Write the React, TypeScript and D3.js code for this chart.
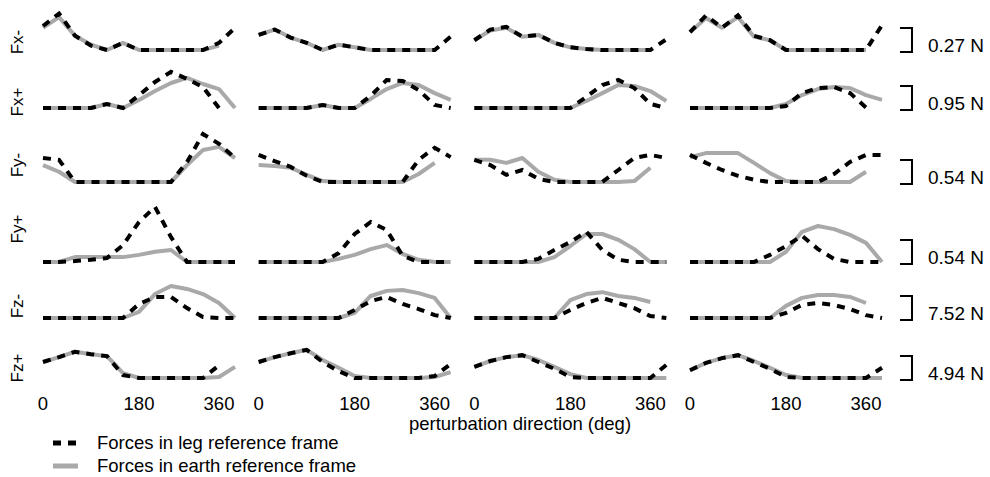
import React from "react";
import * as d3 from "d3";

// ---------- data ----------
const DIRECTIONS = [0, 30, 60, 90, 120, 150, 180, 210, 240, 270, 300, 330, 360];
const ROW_NAMES = ["Fx-", "Fx+", "Fy-", "Fy+", "Fz-", "Fz+"];
const SCALE_VALUES = [0.27, 0.95, 0.54, 0.54, 7.52, 4.94];
const SCALE_LABELS = ["0.27 N", "0.95 N", "0.54 N", "0.54 N", "7.52 N", "4.94 N"];
const TICK_VALUES = [0, 180, 330];
const TICK_LABELS = ["0", "180", "360"];

// leg reference frame (dashed), 4 columns per row
const legFxMinus = [
  [0.27, 0.41, 0.16, 0.05, 0, 0.08, 0, 0, 0, 0, 0, 0.08, 0.25],
  [0.17, 0.23, 0.14, 0.08, 0, 0.06, 0.03, 0, 0, 0, 0, 0, 0.15],
  [0.11, 0.23, 0.26, 0.15, 0.17, 0.08, 0.03, 0.01, 0, 0, 0, 0, 0.12],
  [0.2, 0.39, 0.25, 0.39, 0.16, 0.11, 0, 0, 0, 0, 0, 0, 0.28],
];
const legFxPlus = [
  [0, 0, 0, 0, 0.16, 0, 0.51, 1.03, 1.43, 1.15, 0.83, 0],
  [0, 0, 0, 0, 0.12, 0, 0, 0.48, 1.11, 1.07, 0.71, 0.12, 0],
  [0, 0, 0, 0, 0, 0, 0, 0.44, 0.91, 1.11, 0.79, 0.16, 0],
  [0, 0, 0, 0, 0, 0, 0.08, 0.59, 0.79, 0.83, 0.59, 0.02],
];
const legFyMinus = [
  [0.54, 0.5, 0, 0, 0, 0, 0, 0, 0, 0.45, 1.08, 0.86, 0.54],
  [0.61, 0.47, 0.34, 0.14, 0, 0, 0, 0, 0, 0, 0.5, 0.77, 0.56],
  [0.5, 0.38, 0.16, 0.27, 0.07, 0, 0, 0, 0, 0.27, 0.54, 0.61, 0.54],
  [0.61, 0.43, 0.27, 0.14, 0.05, 0, 0, 0, 0, 0.18, 0.45, 0.61, 0.61],
];
const legFyPlus = [
  [0, 0, 0.02, 0.05, 0.09, 0.38, 0.9, 1.24, 0.56, 0, 0, 0, 0],
  [0, 0, 0, 0, 0, 0.2, 0.63, 0.9, 0.72, 0.14, 0, 0, 0],
  [0, 0, 0, 0, 0.07, 0.27, 0.45, 0.68, 0.27, 0.05, 0, 0, 0],
  [0, 0, 0, 0, 0, 0.16, 0.36, 0.59, 0.29, 0.07, 0, 0, 0],
];
const legFzMinus = [
  [0, 0, 0, 0, 0, 0, 4.4, 6.6, 6.6, 3.1, 0.3, 0, 0],
  [0, 0, 0, 0, 0, 0, 2.5, 5.3, 6.6, 4.4, 2.8, 0.9, 0],
  [0, 0, 0, 0, 0, 0, 2.5, 4.7, 6.3, 4.7, 3.1, 0.6, 0],
  [0, 0, 0, 0, 0, 0, 1.6, 4.1, 4.7, 4.1, 2.8, 0.9, 0],
];
const legFzPlus = [
  [3.3, 4.3, 5.4, 4.9, 4.5, 0.6, 0, 0, 0, 0, 0, 2.6],
  [3.3, 4.3, 5.1, 5.8, 3.3, 1.4, 0, 0, 0, 0, 0, 0.4, 2.9],
  [2.3, 3.5, 4.3, 4.7, 3.3, 1.9, 0.2, 0, 0, 0, 0, 0, 2.7],
  [1.6, 3.1, 4.1, 4.7, 3.3, 1.9, 0.2, 0, 0, 0, 0, 0, 2.1],
];

// earth reference frame (gray)
const earthFxMinus = [
  [0.25, 0.37, 0.16, 0.06, 0, 0.08, 0, 0, 0, 0, 0, 0.05],
  [0.17, 0.23, 0.14, 0.08, 0, 0.06, 0.03, 0, 0, 0, 0, 0],
  [0.11, 0.22, 0.25, 0.15, 0.17, 0.08, 0.03, 0.01, 0, 0, 0, 0],
  [0.2, 0.36, 0.25, 0.37, 0.15, 0.11, 0, 0, 0, 0, 0, 0],
];
const earthFxPlus = [
  [0, 0, 0, 0, 0.16, 0, 0.32, 0.67, 0.99, 1.19, 0.95, 0.75, 0],
  [0, 0, 0, 0, 0.12, 0, 0, 0.36, 0.75, 0.99, 0.91, 0.59, 0.32],
  [0, 0, 0, 0, 0, 0, 0, 0.28, 0.59, 0.91, 0.87, 0.67, 0.28],
  [0, 0, 0, 0, 0, 0, 0.16, 0.51, 0.75, 0.83, 0.79, 0.51, 0.32],
];
const earthFyMinus = [
  [0.38, 0.23, 0, 0, 0, 0, 0, 0, 0, 0.38, 0.72, 0.79, 0.54],
  [0.38, 0.36, 0.32, 0.16, 0.02, 0, 0, 0, 0, 0, 0.18, 0.43],
  [0.5, 0.5, 0.43, 0.54, 0.23, 0.05, 0, 0, 0, 0, 0.02, 0.32],
  [0.56, 0.65, 0.65, 0.65, 0.43, 0.2, 0.02, 0, 0, 0, 0, 0.23],
];
const earthFyPlus = [
  [0, 0, 0.11, 0.11, 0.11, 0.11, 0.16, 0.23, 0.27, 0, 0, 0, 0],
  [0, 0, 0, 0, 0, 0.07, 0.16, 0.29, 0.38, 0.18, 0.05, 0, 0],
  [0, 0, 0, 0, 0, 0.11, 0.36, 0.63, 0.63, 0.5, 0.29, 0, 0],
  [0, 0, 0, 0, 0, 0, 0.23, 0.68, 0.81, 0.74, 0.61, 0.43, 0],
];
const earthFzMinus = [
  [0, 0, 0, 0, 0, 0, 1.9, 7.5, 10.0, 9.1, 7.5, 4.7, 0],
  [0, 0, 0, 0, 0, 0, 1.6, 6.9, 8.5, 8.8, 7.8, 6.3, 0],
  [0, 0, 0, 0, 0, 0, 5.6, 7.5, 8.1, 6.9, 6.3, 5.0],
  [0, 0, 0, 0, 0, 0, 3.8, 6.3, 7.2, 7.2, 6.6, 4.7],
];
const earthFzPlus = [
  [3.3, 4.3, 5.4, 4.9, 4.5, 1.0, 0, 0, 0, 0, 0, 0.2, 2.3],
  [3.3, 4.3, 5.1, 5.8, 3.7, 2.1, 0.4, 0, 0, 0, 0, 0.2, 1.2],
  [2.3, 3.5, 4.3, 4.7, 3.7, 2.3, 0.8, 0, 0, 0, 0, 0, 0],
  [1.6, 3.1, 4.1, 4.7, 3.5, 2.1, 0.6, 0, 0, 0, 0, 0, 0],
];

const LEG = [legFxMinus, legFxPlus, legFyMinus, legFyPlus, legFzMinus, legFzPlus];
const EARTH = [earthFxMinus, earthFxPlus, earthFyMinus, earthFyPlus, earthFzMinus, earthFzPlus];

// ---------- layout ----------
const W = 990;
const H = 477;
const ROW_BASELINES = [50, 108, 182, 262, 318, 378];
const ROW_LABEL_Y = [42, 102, 165, 229, 306, 368];
const PANEL_WIDTH = 192;
const BAR_PX = 24;
const FONT = "'Liberation Sans', Arial, Helvetica, sans-serif";
const GRAY = "#a9a9a9";

const colLeft = d3.scaleLinear().domain([0, 3]).range([43, 690]);

export default function App() {
  const rows = ROW_NAMES.map((name, r) => {
    const base = ROW_BASELINES[r];
    const y = d3.scaleLinear().domain([0, SCALE_VALUES[r]]).range([base, base - BAR_PX]);
    const panels = [0, 1, 2, 3].map((c) => {
      const x0 = colLeft(c);
      const x = d3.scaleLinear().domain([0, 360]).range([x0, x0 + PANEL_WIDTH]);
      const line = d3
        .line<number>()
        .x((_, i) => x(DIRECTIONS[i]))
        .y((v) => y(v));
      return (
        <g key={c}>
          <path d={line(EARTH[r][c]) || ""} fill="none" stroke={GRAY} strokeWidth={4} strokeLinejoin="round" />
          <path
            d={line(LEG[r][c]) || ""}
            fill="none"
            stroke="#000"
            strokeWidth={4}
            strokeDasharray="8,7"
          />
        </g>
      );
    });
    const yTop = y(SCALE_VALUES[r]) + 2;
    const yBot = y(0) + 2;
    return (
      <g key={name}>
        <text
          transform={`translate(23,${ROW_LABEL_Y[r]}) rotate(-90)`}
          textAnchor="middle"
          fontSize={17}
          fontFamily={FONT}
        >
          {name}
        </text>
        {panels}
        <path
          d={`M900,${yTop}H912V${yBot}H900`}
          fill="none"
          stroke="#000"
          strokeWidth={2}
        />
        <text x={928} y={yBot} fontSize={19} fontFamily={FONT}>
          {SCALE_LABELS[r]}
        </text>
      </g>
    );
  });

  const ticks = [0, 1, 2, 3].map((c) => {
    const x0 = colLeft(c);
    const x = d3.scaleLinear().domain([0, 360]).range([x0, x0 + PANEL_WIDTH]);
    return TICK_VALUES.map((t, i) => (
      <text key={`${c}-${i}`} x={x(t)} y={410} textAnchor="middle" fontSize={18.5} fontFamily={FONT}>
        {TICK_LABELS[i]}
      </text>
    ));
  });

  return (
    <svg
      width={W}
      height={H}
      style={{ position: "absolute", left: 0, top: 0, background: "#fff" }}
    >
      <rect width={W} height={H} fill="#fff" />
      {rows}
      {ticks}
      <text x={520} y={430} textAnchor="middle" fontSize={18.5} fontFamily={FONT}>
        perturbation direction (deg)
      </text>
      <line x1={53} x2={78} y1={443} y2={443} stroke="#000" strokeWidth={5} strokeDasharray="8,7" />
      <text x={97} y={449} fontSize={18.5} fontFamily={FONT}>
        Forces in leg reference frame
      </text>
      <line x1={53} x2={78} y1={466} y2={466} stroke={GRAY} strokeWidth={5} />
      <text x={97} y={472} fontSize={18.5} fontFamily={FONT}>
        Forces in earth reference frame
      </text>
    </svg>
  );
}
